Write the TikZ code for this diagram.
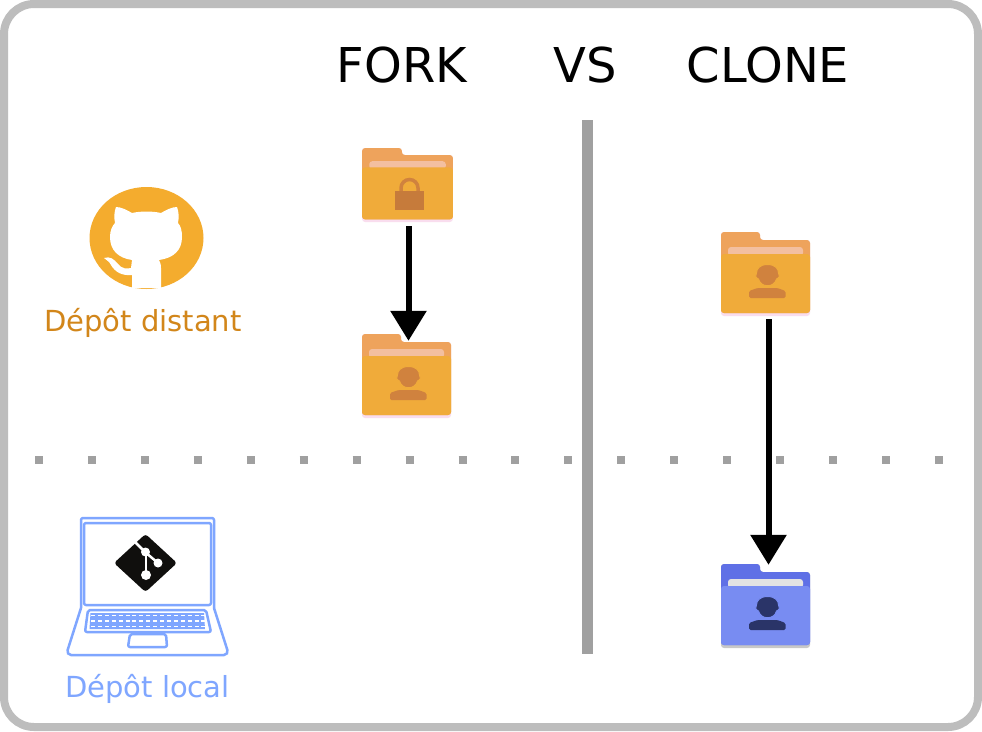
\documentclass[tikz,border=0pt]{standalone}
\usepackage{fontspec}
\setmainfont{DejaVu Sans}
\usetikzlibrary{arrows.meta}
\definecolor{framegray}{HTML}{BDBDBD}
\definecolor{bargray}{HTML}{A0A0A0}
\definecolor{ghorange}{HTML}{F4AC2E}
\definecolor{distantcol}{HTML}{D2861A}
\definecolor{localcol}{HTML}{7FA6FF}
\definecolor{gitblack}{HTML}{100F0D}
\definecolor{orangeback}{HTML}{EEA35C}
\definecolor{orangefront}{HTML}{F0AB3A}
\definecolor{orangepaper}{HTML}{F3BFA0}
\definecolor{orangeicon}{HTML}{D0823E}
\definecolor{orangeshadow}{HTML}{F9DDEE}
\definecolor{blueback}{HTML}{5F70E6}
\definecolor{bluefront}{HTML}{788CF2}
\definecolor{bluepaper}{HTML}{E3E3E3}
\definecolor{blueicon}{HTML}{2A3468}
\definecolor{blueshadow}{HTML}{C8C8C8}
\tikzstyle{title} = [font=\fontsize{48}{48}\selectfont, anchor=base, inner sep=0pt, text=black]
\tikzstyle{place} = [font=\fontsize{29}{29}\selectfont, anchor=base, inner sep=0pt]
\tikzstyle{folderbox} = [rectangle, inner sep=0pt, minimum width=90pt, minimum height=84pt]
\tikzstyle{flow} = [line width=6pt, -{Triangle[width=35pt,length=30pt]}]
\tikzstyle{laptop} = [draw=localcol, line width=2.5pt, rounded corners=2pt, line join=round]
\tikzstyle{keys} = [white, line width=1.2pt, dash pattern=on 4pt off 2.9pt]
\tikzset{
  pics/folder/.style n args={4}{code={
    \fill [#4] (-44.5,-38) [rounded corners=3pt] -- (-44.5,-42) -- (-5.5,-42) -- (-5.5,-34) -- (44.5,-34) -- (44.5,42) -- (-44.5,42) -- cycle;
    \fill [#1, rounded corners=3pt] (-44.5,-42) -- (-5.5,-42) -- (-5.5,-34) -- (44.5,-34) -- (44.5,39) -- (-44.5,39) -- cycle;
    \fill [#3, rounded corners=3pt] (-37.5,-18) -- (-37.5,-27) -- (37.5,-27) -- (37.5,-18) -- cycle;
    \fill [#2, rounded corners=3pt] (-44.5,-20) -- (44.5,-20) -- (44.5,39) -- (-44.5,39) -- cycle;
  }},
  pics/person/.style n args={2}{code={
    \fill [#1, rounded corners=1.5pt] (-16.5,24) -- (-16.5,17) -- (-8,14) -- (12,14) -- (20,17) -- (20,24) -- cycle;
    \draw [#2, fill=#1, line width=1pt] (2,-9.5) .. controls (-6,-9.5) and (-9,-5) .. (-9,-1) .. controls (-11,1) and (-10,4) .. (-7,5) .. controls (-5,14) and (9,14) .. (11,5) .. controls (14,4) and (15,1) .. (13,-1) .. controls (13,-5) and (10,-9.5) .. (2,-9.5) -- cycle;
  }}
}
\begin{document}
\begin{tikzpicture}[x=1pt,y=-1pt]
	\useasboundingbox (0,0) rectangle (982,731);

	% Cadre
	\draw [framegray, fill=white, line width=8pt, rounded corners=30pt] (4,4) rectangle (978,727);

	% Titres
	\node (fork) [title] at (402,82) {FORK};
	\node (vs) [title] at (585,82) {VS};
	\node (clone) [title] at (768,82) {CLONE};

	% Separations
	\draw [bargray, line width=8pt, dash pattern=on 8pt off 44.94pt] (35,459.5) -- (945,459.5);
	\fill [bargray] (582,120) rectangle (593,654);

	% Logo GitHub
	\fill [ghorange] (146.5,238) ellipse [x radius=57, y radius=51];
	\fill [white] (132,288) -- (132,275) .. controls (122,276) and (115,272) .. (111,265) .. controls (109,261) and (106,260) .. (104,258) .. controls (110,256) and (114,259) .. (118,264) .. controls (122,269) and (127,269) .. (131,268) -- (132,260) .. controls (118,258) and (110,250) .. (110,237) .. controls (110,231) and (112,226) .. (115,223) .. controls (114,218) and (114,212) .. (116,207) .. controls (121,207) and (127,210) .. (132,213) .. controls (141,211) and (152,211) .. (161,213) .. controls (166,210) and (172,207) .. (177,207) .. controls (179,212) and (179,218) .. (178,223) .. controls (181,226) and (182,231) .. (182,237) .. controls (182,250) and (174,258) .. (159,260) .. controls (160,262) and (161,264) .. (161,268) -- (161,288) -- cycle;
	\node (distant) [place, text=distantcol] at (143,331) {Dépôt distant};

	% Portable
	\draw [laptop] (81,608) -- (81,518) -- (214,518) -- (214,608);
	\draw [laptop] (84,523) rectangle (211,605);
	\draw [laptop] (81,608) -- (67,652) -- (69,655) -- (226,655) -- (228,652) -- (214,608);
	\draw [laptop] (88,610) -- (206,610) -- (211,632) -- (85,632) -- cycle;
	\fill [localcol] (90.5,613) -- (204,613) -- (205,629) -- (89.5,629) -- cycle;
	\draw [keys] (91,615.5) -- (205,615.5);
	\draw [keys] (91,621) -- (205,621);
	\draw [keys] (91,626.5) -- (205,626.5);
	\draw [laptop] (130,634) -- (166,634) -- (167,647) -- (128,647) -- cycle;

	% Logo Git
	\fill [gitblack, rounded corners=3pt] (145.5,534) -- (177,563) -- (145.5,592) -- (114,563) -- cycle;
	\draw [white, line width=2.5pt] (135,542) -- (145,552) -- (158,563);
	\draw [white, line width=2.5pt] (146,552) -- (146,575);
	\fill [white] (145.5,552) circle (4.5);
	\fill [white] (158,563) circle (4.5);
	\fill [white] (146,575) circle (5);
	\node (local) [place, text=localcol] at (147.5,697) {Dépôt local};

	% Dossiers
	\node (upstream) [folderbox, minimum height=74pt] at (407.5,185) {};
	\node (forked) [folderbox] at (406.5,376) {};
	\node (original) [folderbox] at (765.5,274) {};
	\node (copy) [folderbox] at (765.5,606) {};

	\pic [xscale=1.02, yscale=.881] at (upstream) {folder={orangeback}{orangefront}{orangepaper}{orangeshadow}};
	\pic at (forked) {folder={orangeback}{orangefront}{orangepaper}{orangeshadow}};
	\pic at (original) {folder={orangeback}{orangefront}{orangepaper}{orangeshadow}};
	\pic at (copy) {folder={blueback}{bluefront}{bluepaper}{blueshadow}};

	% Icones
	\draw [orangeicon, line width=3.5pt] (401,192) -- (401,188) arc [start angle=180, end angle=360, x radius=8.5, y radius=8.5] -- (418,192);
	\fill [orangeicon!95!black] (395,191) rectangle (424,210);
	\pic at (forked) {person={orangeicon}{orangefront}};
	\pic at (original) {person={orangeicon}{orangefront}};
	\pic at (copy) {person={blueicon}{bluefront}};

	% Fleches
	\draw [flow, shorten <=4pt, shorten >=-7pt] (upstream.south -| forked.north) ++(2,0) coordinate (from) (from) -- (from |- forked.north);
	\draw [flow, shorten <=3pt, shorten >=-1pt] (original) ++(3,42) coordinate (start) (start) -- (start |- copy.north);
\end{tikzpicture}
\end{document}
